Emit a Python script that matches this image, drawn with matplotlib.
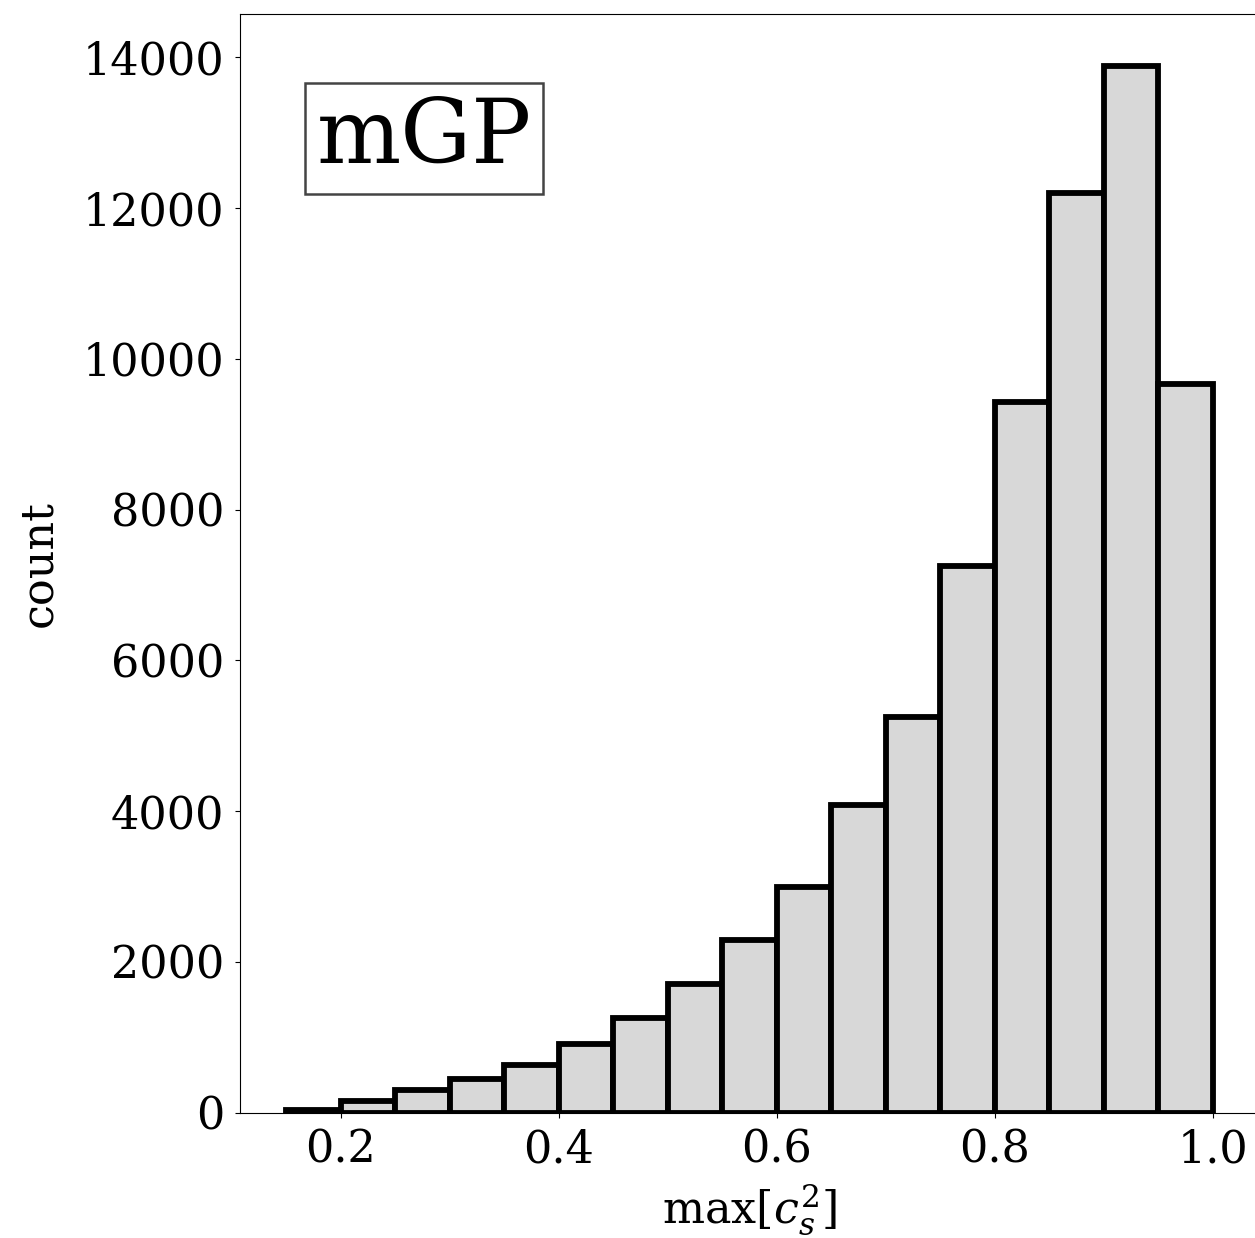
import numpy as np
import matplotlib
matplotlib.use("Agg")
import matplotlib.pyplot as plt

# Histogram bins (edges) and counts
bin_edges = [0.15, 0.20, 0.25, 0.30, 0.35, 0.40, 0.45, 0.50, 0.55, 0.60,
             0.65, 0.70, 0.75, 0.80, 0.85, 0.90, 0.95, 1.00]
counts = [38, 146, 297, 449, 630, 904, 1253, 1709, 2290, 2996,
          4075, 5250, 7245, 9429, 12195, 13881, 9667]
yticks = [0, 2000, 4000, 6000, 8000, 10000, 12000, 14000]
xticks = [0.2, 0.4, 0.6, 0.8, 1.0]
label_text = "mGP"

plt.rcParams['font.family'] = ['DejaVu Serif']
plt.rcParams['mathtext.fontset'] = 'dejavuserif'

fig = plt.figure(figsize=(12.55, 12.38), dpi=100)
ax = fig.add_axes([240/1255, (1238-1112.5)/1238, (1259-240)/1255, (1112.5-14)/1238])

centers = [(a + b) / 2 for a, b in zip(bin_edges[:-1], bin_edges[1:])]
ax.hist(centers, bins=bin_edges, weights=counts, color='#d8d8d8',
        edgecolor='black', linewidth=4.2)

ax.set_yticks(yticks)
ax.set_xticks(xticks)
ax.set_xticklabels([f"{v:.1f}" for v in xticks])
ax.tick_params(labelsize=32, pad=8)
ax.set_xlabel(r"max[$c_s^2$]", fontsize=32, labelpad=8)
ax.set_ylabel("count", fontsize=32, labelpad=16)

ax.text(0.0752, 0.9266, label_text, transform=ax.transAxes, fontsize=64,
        va='top', ha='left',
        bbox=dict(boxstyle='square,pad=0.13', facecolor='white',
                  edgecolor='#444444', linewidth=1.8))

fig.savefig("out.png", dpi=100)
